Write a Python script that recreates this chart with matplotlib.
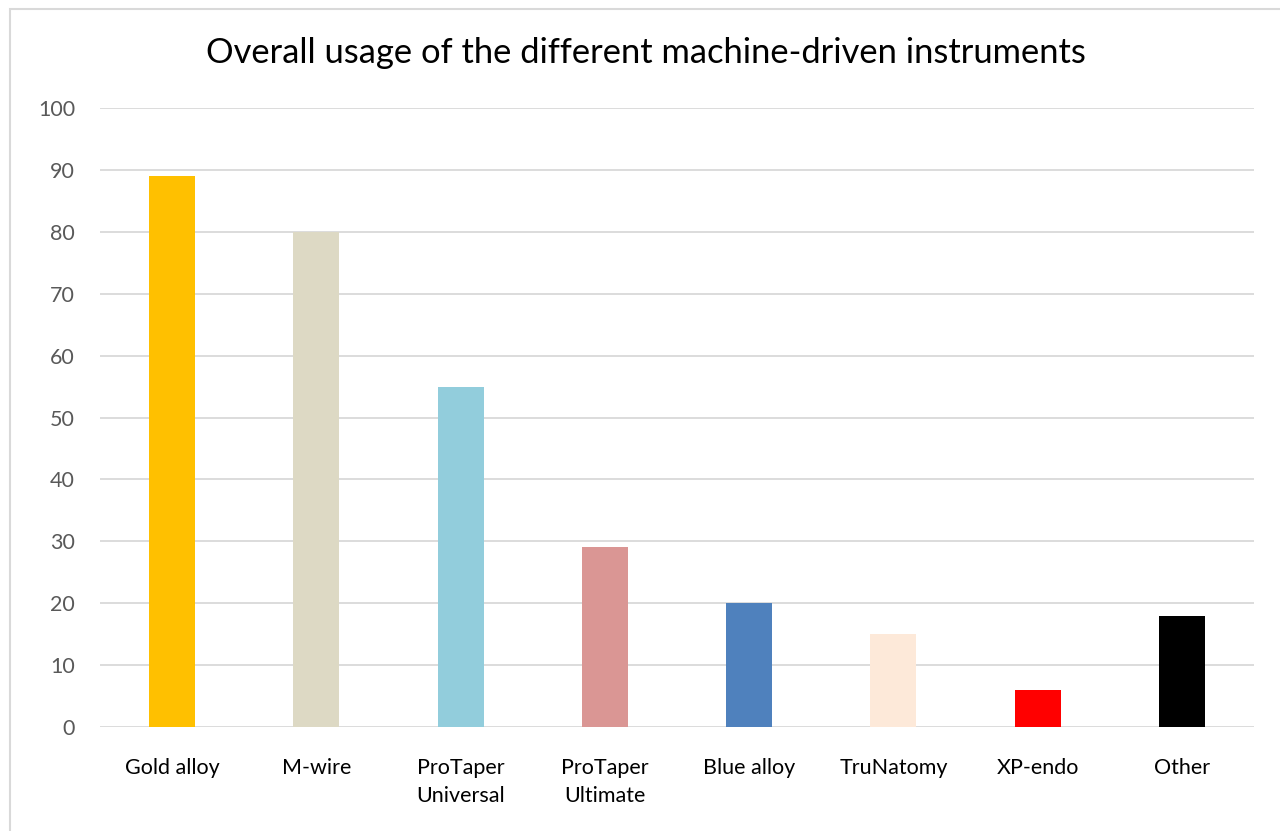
import matplotlib
matplotlib.use("Agg")
import matplotlib.pyplot as plt
from matplotlib.patches import Rectangle

categories = ["Gold alloy", "M-wire", "ProTaper\nUniversal", "ProTaper\nUltimate",
              "Blue alloy", "TruNatomy", "XP-endo", "Other"]
values = [89, 80, 55, 29, 20, 15, 6, 18]
colors = ["#FFC000", "#DDD9C4", "#92CDDC", "#DA9694", "#4F81BD", "#FDE9D9", "#FF0000", "#000000"]
yticks = [0, 10, 20, 30, 40, 50, 60, 70, 80, 90, 100]
title = "Overall usage of the different machine-driven instruments"

plt.rcParams['font.family'] = ['Lato', 'DejaVu Sans']

fig = plt.figure(figsize=(12.8, 8.31), dpi=100)
fig.patches.append(Rectangle((10/1280, -0.1), 1.2, 1 - 9/831 + 0.1, transform=fig.transFigure,
                             fill=False, edgecolor="#D9D9D9", linewidth=1.5))
ax = fig.add_axes([100/1280, 1 - 727/831, 1154/1280, (727 - 108)/831])

x = list(range(len(categories)))
ax.bar(x, values, width=0.32, color=colors, zorder=3)
ax.set_xlim(-0.5, len(categories) - 0.5)
ax.set_ylim(0, 100)
ax.set_yticks(yticks)
ax.set_yticklabels([str(v) for v in yticks], fontsize=15.5, color="#595959")
ax.set_xticks(x)
ax.set_xticklabels(categories, fontsize=15.5, color="#000000", linespacing=1.5)
ax.tick_params(axis='both', length=0)
ax.tick_params(axis='y', pad=18)
ax.tick_params(axis='x', pad=22)
for s in ax.spines.values():
    s.set_visible(False)
ax.yaxis.grid(True, color="#D9D9D9", linewidth=1.3, zorder=0)
ax.set_axisbelow(True)
fig.text(646/1280, 1 - 53/831, title, fontsize=24.8, ha="center", va="center", color="#000000")

fig.savefig("out.png", dpi=100)
